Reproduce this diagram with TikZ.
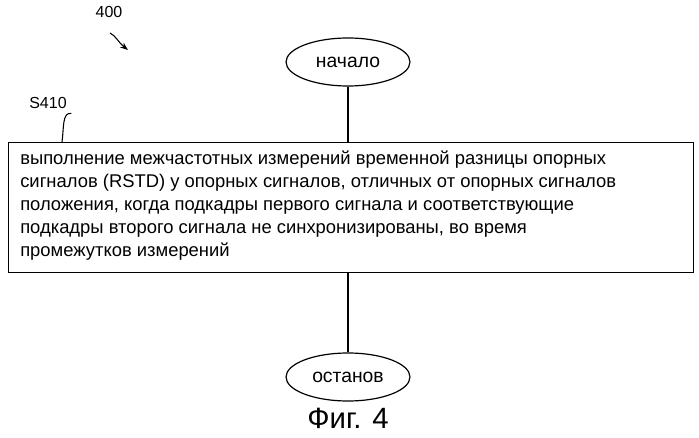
\documentclass[tikz,border=0pt]{standalone}
\usepackage{fontspec}
\setmainfont{Liberation Sans}
\usetikzlibrary{shapes.geometric,arrows.meta}
\begin{document}
\begin{tikzpicture}[x=0.75pt,y=-0.75pt,
  term/.style={draw,ellipse,minimum width=124*0.75pt,minimum height=48*0.75pt,font=\fontsize{14.5}{16}\selectfont,line width=0.9pt},
  lab/.style={font=\fontsize{12}{14}\selectfont}]
\useasboundingbox (0,0) rectangle (699,438);
\node[term] (start) at (348,62) {начало};
\node[draw,line width=0.9pt,minimum width=685*0.75pt,minimum height=130*0.75pt,anchor=north west] (box) at (8,142) {};
\node[anchor=north west,align=left,font=\fontsize{13.8}{17.25}\selectfont,inner sep=0pt] (txt) at (20,151) {выполнение межчастотных измерений временной разницы опорных\\сигналов (RSTD) у опорных сигналов, отличных от опорных сигналов\\положения, когда подкадры первого сигнала и соответствующие\\подкадры второго сигнала не синхронизированы, во время\\промежутков измерений};
\node[term] (stop) at (348,377) {останов};
\draw[line width=0.9pt] (start) -- (box.north -| start);
\draw[line width=0.9pt] (box.south -| stop) -- (stop);
\node[font=\fontsize{22}{24}\selectfont] (fig) at (348,418) {Фиг. 4};
\node[lab] (n400) at (109,12) {400};
\coordinate (a1) at (110,33);
\coordinate (a2) at (128,50);
\draw[-{Stealth[length=6pt]},line width=0.8pt] (a1) .. controls (116,36) and (118,42) .. (a2);
\node[lab] (s410) at (48,103) {S410};
\coordinate (c1) at (62,142);
\draw[line width=0.8pt] (s410.south east) .. controls (62,112) and (64,128) .. (c1);
\end{tikzpicture}
\end{document}
